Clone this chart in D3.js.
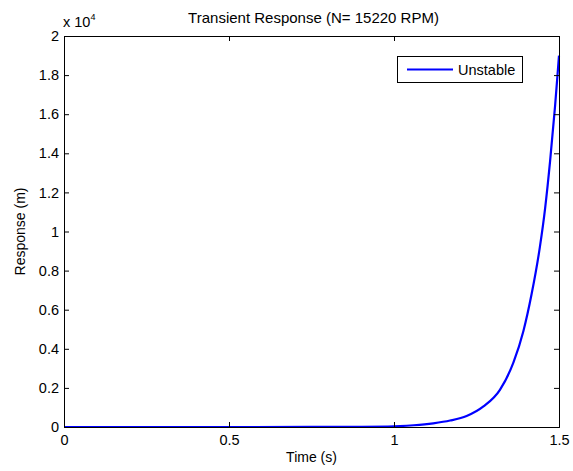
<!DOCTYPE html>
<html>
<head>
<meta charset="utf-8">
<script src="https://cdn.jsdelivr.net/npm/d3@7"></script>
<style>
  html, body { margin: 0; padding: 0; background: #fff; }
  svg { display: block; }
  text { font-family: "Liberation Sans", Arial, Helvetica, sans-serif; fill: #000; }
</style>
</head>
<body>
<svg id="chart" width="573" height="471"></svg>
<script>
// Response of the unstable rotor (values in units of 1e4 m)
const timeS = [0, 0.25, 0.5, 0.75, 0.9, 1.0, 1.018, 1.06, 1.119, 1.17, 1.22, 1.271, 1.321, 1.362, 1.392, 1.417, 1.442, 1.458, 1.473, 1.488, 1.495, 1.5];
const response = [0, 0, 0, 0.0003, 0.0012, 0.0035, 0.0046, 0.009, 0.019, 0.033, 0.056, 0.105, 0.19, 0.33, 0.49, 0.68, 0.92, 1.12, 1.36, 1.64, 1.79, 1.9];
const xTicks = [0, 0.5, 1, 1.5];
const yTicks = [0, 0.2, 0.4, 0.6, 0.8, 1, 1.2, 1.4, 1.6, 1.8, 2];
const seriesName = "Unstable";
const titleText = "Transient Response (N= 15220 RPM)";

const svg = d3.select("#chart");
const m = { left: 64, right: 559, top: 36, bottom: 427 };
const tickFont = "14.5px";
const labelFont = "14px";

const x = d3.scaleLinear().domain([0, 1.5]).range([m.left, m.right]);
const y = d3.scaleLinear().domain([0, 2]).range([m.bottom, m.top]);

const tickLen = 5;
const fmt = d => String(+d.toFixed(2));

// Data line (drawn first so the frame sits on top)
const pts = timeS.map((t, i) => [t, response[i]]);
svg.append("path")
  .datum(pts)
  .attr("fill", "none")
  .attr("stroke", "#0000ff")
  .attr("stroke-width", 2.2)
  .attr("d", d3.line().x(d => x(d[0])).y(d => y(d[1])).curve(d3.curveMonotoneX));

// Axes: inward ticks on all four sides
const gB = svg.append("g").attr("transform", `translate(0,${m.bottom})`)
  .call(d3.axisBottom(x).tickValues(xTicks).tickSize(-tickLen).tickPadding(8).tickFormat(fmt));
const gT = svg.append("g").attr("transform", `translate(0,${m.top})`)
  .call(d3.axisTop(x).tickValues(xTicks).tickSize(-tickLen).tickFormat(""));
const gL = svg.append("g").attr("transform", `translate(${m.left},0)`)
  .call(d3.axisLeft(y).tickValues(yTicks).tickSize(-tickLen).tickPadding(5).tickFormat(fmt));
const gR = svg.append("g").attr("transform", `translate(${m.right},0)`)
  .call(d3.axisRight(y).tickValues(yTicks).tickSize(-tickLen).tickFormat(""));

[gB, gT, gL, gR].forEach(g => {
  g.select(".domain").attr("stroke", "#000").attr("stroke-width", 1);
  g.selectAll(".tick line").attr("stroke", "#000");
  g.selectAll(".tick text")
    .style("font-family", '"Liberation Sans", Arial, sans-serif')
    .style("font-size", tickFont)
    .attr("fill", "#000");
});

// Exponent marker above the y axis
const expo = svg.append("text").attr("x", m.left - 1).attr("y", 27)
  .style("font-size", tickFont);
expo.append("tspan").text("x 10");
expo.append("tspan").attr("dy", -7).style("font-size", "9px").text("4");

// Title and axis labels
svg.append("text").attr("x", (m.left + m.right) / 2 + 2).attr("y", 23)
  .attr("text-anchor", "middle").style("font-size", "15px").text(titleText);
svg.append("text").attr("x", (m.left + m.right) / 2).attr("y", 462)
  .attr("text-anchor", "middle").style("font-size", labelFont).text("Time (s)");
svg.append("text").attr("transform", `translate(25,${(m.top + m.bottom) / 2}) rotate(-90)`)
  .attr("text-anchor", "middle").style("font-size", labelFont).text("Response (m)");

// Legend
const lg = svg.append("g");
lg.append("rect").attr("x", 397.5).attr("y", 56.5).attr("width", 125).attr("height", 26)
  .attr("fill", "#fff").attr("stroke", "#000").attr("stroke-width", 1);
lg.append("line").attr("x1", 407).attr("x2", 453).attr("y1", 69.5).attr("y2", 69.5)
  .attr("stroke", "#0000ff").attr("stroke-width", 2.2);
lg.append("text").attr("x", 458).attr("y", 74.5).style("font-size", "14.5px").text(seriesName);
</script>
</body>
</html>
